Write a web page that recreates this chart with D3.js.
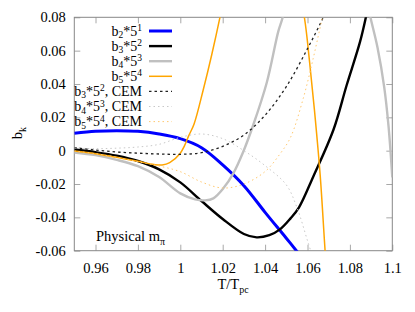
<!DOCTYPE html>
<html>
<head>
<meta charset="utf-8">
<script src="https://cdn.jsdelivr.net/npm/d3@7"></script>
<style>
  body { margin: 0; background: #fff; }
</style>
</head>
<body>
<div id="chart"></div>
<script>
// axis ticks
const xTicks = [0.96, 0.98, 1, 1.02, 1.04, 1.06, 1.08, 1.1];
const yTicks = [-0.06, -0.04, -0.02, 0, 0.02, 0.04, 0.06, 0.08];

// [T/Tpc, value] (values past the frame get clipped)
const b2 = [[0.95, 0.0104], [0.96, 0.0116], [0.97, 0.0120], [0.98, 0.0116], [0.99, 0.0100],
    [1.0, 0.0072], [1.01, 0.0018], [1.02, -0.0085], [1.03, -0.0210], [1.04, -0.0370],
    [1.05, -0.0525], [1.056, -0.062]];
const b3 = [[0.95, 0.0007], [0.96, -0.0009], [0.97, -0.0030], [0.98, -0.0062], [0.99, -0.0112],
    [1.0, -0.0190], [1.01, -0.0302], [1.02, -0.0410], [1.03, -0.0500], [1.036, -0.0520],
    [1.042, -0.0507], [1.047, -0.0472], [1.052, -0.0406], [1.056, -0.0340], [1.0627, -0.0156],
    [1.0722, 0.0124], [1.0785, 0.0394], [1.0848, 0.0654], [1.0876, 0.0804], [1.092, 0.108]];
const b4 = [[0.95, -0.0011], [0.96, -0.0027], [0.97, -0.0055], [0.98, -0.0093], [0.99, -0.0158],
    [1.0, -0.0256], [1.007, -0.0292], [1.0117, -0.0298], [1.0156, -0.0286], [1.0203, -0.0226],
    [1.025, -0.0136], [1.0297, -0.0006], [1.0344, 0.0154], [1.0408, 0.0409], [1.0462, 0.0714],
    [1.0483, 0.080], [1.053, 0.11], [1.07, 0.15], [1.085, 0.108], [1.0895, 0.081],
    [1.093, 0.062], [1.0962, 0.038], [1.0982, 0.015], [1.1, -0.016]];
const b5 = [[0.95, -0.0002], [0.96, -0.0018], [0.97, -0.0040], [0.98, -0.0064], [0.9876, -0.0083],
    [0.9914, -0.0086], [0.995, -0.0072], [1.0, -0.0015], [1.002, 0.003], [1.004, 0.009],
    [1.0065, 0.016], [1.0108, 0.0364], [1.0148, 0.0574], [1.0187, 0.0799], [1.025, 0.12],
    [1.04, 0.16], [1.052, 0.12], [1.0584, 0.081], [1.061, 0.053], [1.0636, 0.020],
    [1.066, -0.015], [1.0683, -0.060], [1.07, -0.09]];
const b3Cem = [[0.95, 0.0018], [0.96, 0.0004], [0.97, -0.0008], [0.98, -0.0015], [0.99, -0.0020],
    [1.0, -0.0022], [1.01, -0.0012], [1.02, 0.0026], [1.03, 0.0094], [1.04, 0.0213],
    [1.05, 0.0384], [1.06, 0.0612], [1.0675, 0.0802], [1.072, 0.094]];
const b4Cem = [[0.95, 0.0016], [0.96, 0.0012], [0.97, 0.0015], [0.98, 0.0022], [0.99, 0.0038],
    [1.0, 0.0080], [1.01, 0.0100], [1.02, 0.0072], [1.03, 0.0000], [1.04, -0.0090],
    [1.05, -0.0205], [1.055, -0.034], [1.06, -0.054], [1.063, -0.066]];
const b5Cem = [[0.95, -0.0002], [0.96, -0.0018], [0.97, -0.0040], [0.98, -0.0066], [0.99, -0.0092],
    [1.0, -0.0126], [1.01, -0.0188], [1.02, -0.0224], [1.03, -0.0200], [1.04, -0.0125],
    [1.047, -0.002], [1.052, 0.008], [1.058, 0.0314], [1.0627, 0.0554], [1.0667, 0.078],
    [1.069, 0.09]];

// legend labels: b_{sub}*5^{sup}[, CEM]
const legendSub = ['2', '3', '4', '5', '3', '4', '5'];
const legendSup = ['1', '2', '3', '4', '2', '3', '4'];
const legendSuffix = ['', '', '', '', ', CEM', ', CEM', ', CEM'];

const width = 415;
const height = 312;
const plot = { left: 74.3, right: 392.3, top: 17.3, bottom: 250.7 };
const serif = "'Liberation Serif', 'Times New Roman', Times, serif";

const series = [
    { data: b2, color: '#0000ff', width: 3, dash: null },
    { data: b3, color: '#000000', width: 2.4, dash: null },
    { data: b4, color: '#c0c0c0', width: 2.4, dash: null },
    { data: b5, color: '#ffa500', width: 1.5, dash: null },
    { data: b3Cem, color: '#222222', width: 1.3, dash: '2.5,3' },
    { data: b4Cem, color: '#c8c8c8', width: 1, dash: '1.5,3' },
    { data: b5Cem, color: '#ffc870', width: 1, dash: '1.5,3' },
];

const svg = d3.select('#chart').append('svg')
    .attr('width', width)
    .attr('height', height)
    .attr('font-family', serif)
    .style('background', '#fff');

const x = d3.scaleLinear().domain([0.95, 1.1]).range([plot.left, plot.right]);
const y = d3.scaleLinear().domain([-0.06, 0.08]).range([plot.bottom, plot.top]);

const fmt = d => d === 0 ? '0' : String(+d.toFixed(2));

svg.append('defs').append('clipPath')
    .attr('id', 'plotClip')
    .append('rect')
    .attr('x', plot.left)
    .attr('y', plot.top)
    .attr('width', plot.right - plot.left)
    .attr('height', plot.bottom - plot.top);

// axes, ticks pointing inward on all four sides
const xAxis = svg.append('g')
    .attr('transform', `translate(0,${plot.bottom})`)
    .call(d3.axisBottom(x).tickValues(xTicks).tickSize(-6).tickSizeOuter(0).tickPadding(12).tickFormat(fmt));
const yAxis = svg.append('g')
    .attr('transform', `translate(${plot.left},0)`)
    .call(d3.axisLeft(y).tickValues(yTicks).tickSize(-6).tickSizeOuter(0).tickPadding(8.5).tickFormat(fmt));
const xTop = svg.append('g')
    .attr('transform', `translate(0,${plot.top})`)
    .call(d3.axisTop(x).tickValues(xTicks).tickSize(-6).tickSizeOuter(0).tickFormat(''));
const yRight = svg.append('g')
    .attr('transform', `translate(${plot.right},0)`)
    .call(d3.axisRight(y).tickValues(yTicks).tickSize(-6).tickSizeOuter(0).tickFormat(''));

[xAxis, yAxis, xTop, yRight].forEach(a => {
    a.attr('font-family', serif).attr('font-size', 14.5);
    a.select('.domain').remove();
    a.selectAll('.tick line').attr('stroke', '#a8a8a8').attr('stroke-width', 1);
    a.selectAll('.tick text').attr('fill', '#000');
});

svg.append('rect')
    .attr('x', plot.left)
    .attr('y', plot.top)
    .attr('width', plot.right - plot.left)
    .attr('height', plot.bottom - plot.top)
    .attr('fill', 'none')
    .attr('stroke', '#888')
    .attr('stroke-width', 1);

// curves
const line = d3.line()
    .x(d => x(d[0]))
    .y(d => y(d[1]))
    .curve(d3.curveCatmullRom.alpha(0.5));

const curves = svg.append('g').attr('clip-path', 'url(#plotClip)');
series.forEach(s => {
    curves.append('path')
        .datum(s.data)
        .attr('d', line)
        .attr('fill', 'none')
        .attr('stroke', s.color)
        .attr('stroke-width', s.width)
        .attr('stroke-dasharray', s.dash)
        .attr('stroke-linejoin', 'round');
});

// legend
const legend = svg.append('g');
series.forEach((s, i) => {
    const ly = 31 + i * 15.1;
    legend.append('line')
        .attr('x1', 149).attr('x2', 172)
        .attr('y1', ly).attr('y2', ly)
        .attr('stroke', s.color)
        .attr('stroke-width', s.width)
        .attr('stroke-dasharray', s.dash);
    const t = legend.append('text')
        .attr('x', 142)
        .attr('y', ly + 4.5)
        .attr('text-anchor', 'end')
        .attr('font-size', 14);
    t.append('tspan').text('b');
    t.append('tspan').attr('dy', 2.5).attr('font-size', 9.5).text(legendSub[i]);
    t.append('tspan').attr('dy', -2.5).text('*5');
    t.append('tspan').attr('dy', -4.5).attr('font-size', 9.5).text(legendSup[i]);
    t.append('tspan').attr('dy', 4.5).text(legendSuffix[i]);
});

// axis titles
const yLabel = svg.append('text')
    .attr('transform', 'translate(22,133) rotate(-90)')
    .attr('text-anchor', 'middle')
    .attr('font-size', 14.5);
yLabel.append('tspan').text('b');
yLabel.append('tspan').attr('dy', 3.5).attr('font-size', 10).text('k');

const xLabel = svg.append('text')
    .attr('x', 233)
    .attr('y', 289)
    .attr('text-anchor', 'middle')
    .attr('font-size', 14.5);
xLabel.append('tspan').text('T/T');
xLabel.append('tspan').attr('dy', 3.5).attr('font-size', 10).text('pc');

const note = svg.append('text')
    .attr('x', 96)
    .attr('y', 241)
    .attr('font-size', 14.5);
note.append('tspan').text('Physical m');
note.append('tspan').attr('dy', 3.5).attr('font-size', 10).text('π');
</script>
</body>
</html>
